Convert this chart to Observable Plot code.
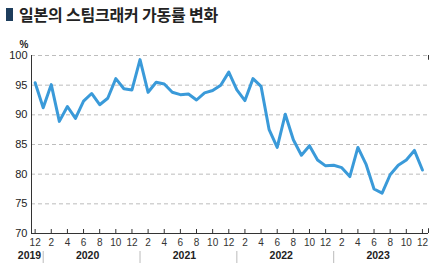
<!DOCTYPE html>
<html>
<head>
<meta charset="utf-8">
<script src="https://cdn.jsdelivr.net/npm/d3@7"></script>
<script src="https://cdn.jsdelivr.net/npm/@observablehq/plot@0.6"></script>
<style>
  html, body { margin: 0; padding: 0; background: #fff; }
  #title { position: relative; height: 30px; width: 434px; }
  #title .sq { position: absolute; left: 6px; top: 8px; width: 7px; height: 13px; background: #1d3d5c; }
  #title .tx { position: absolute; left: 19px; top: 3px; font-family: "Noto Sans CJK KR", sans-serif; font-weight: 700; font-size: 16px; line-height: 22px; color: #222; letter-spacing: -0.2px; }
  #chart svg { display: block; }
</style>
</head>
<body>
<div id="title"><div class="sq"></div><div class="tx">일본의 스팀크래커 가동률 변화</div></div>
<div id="chart"></div>
<script>
// Monthly steam cracker utilization in Japan, Dec 2019 – Dec 2023 (%)
const monthIndex = d3.range(0, 49); // 0 = Dec 2019
const utilization = [
  95.4, // 2019-12
  91.2, 95.1, 88.9, 91.4, 89.4, 92.3, 93.6, 91.7, 92.8, 96.1, 94.4, 94.2, // 2020
  99.3, 93.8, 95.5, 95.2, 93.8, 93.4, 93.5, 92.5, 93.7, 94.1, 95.0, 97.2, // 2021
  94.2, 92.4, 96.1, 94.8, 87.5, 84.5, 90.1, 85.8, 83.2, 84.8, 82.4, 81.4, // 2022
  81.5, 81.1, 79.6, 84.5, 81.7, 77.5, 76.8, 79.9, 81.5, 82.4, 84.0, 80.7  // 2023
];
const yTicks = [70, 75, 80, 85, 90, 95, 100];
const xTicks = d3.range(0, 49, 2);
const yearLabels = ["2019", "2020", "2021", "2022", "2023"];
const yearCenters = [-0.7, 6.5, 18.5, 30.5, 42.5];
const yearSeparators = [1, 13, 25, 37];
const xDomain = [-0.45, 48.75];

const data = monthIndex.map((i) => ({ i, v: utilization[i] }));
const years = yearLabels.map((label, k) => ({ label, x: yearCenters[k] }));

const font = "'Liberation Sans', Arial, sans-serif";

const chart = Plot.plot({
  width: 434,
  height: 237,
  marginTop: 25,
  marginBottom: 34,
  marginLeft: 31,
  marginRight: 6,
  style: { fontFamily: font, fontSize: "11px", color: "#222", background: "#fff" },
  x: { domain: xDomain, axis: null },
  y: { domain: [70, 100], axis: null },
  marks: [
    Plot.ruleY(yTicks.filter((d) => d > 70), { stroke: "#bdbdbd", strokeDasharray: "4,3", strokeWidth: 1 }),
    Plot.ruleX([xDomain[1]], { y1: 100, y2: 99.2, stroke: "#333", strokeWidth: 1 }),
    Plot.ruleX([xDomain[1]], { y1: 70, y2: 70.8, stroke: "#333", strokeWidth: 1 }),
    Plot.axisY({ ticks: yTicks, tickSize: 0, tickPadding: 4, label: null, fontSize: 11, fill: "#222" }),
    Plot.axisX({ ticks: xTicks, tickSize: -4, tickPadding: 9.5, label: null, tickFormat: (i) => ((i + 11) % 12) + 1, fontSize: 10, fill: "#333", stroke: "#333" }),
    Plot.axisX({ ticks: yearSeparators, tickSize: 12, dy: 18, tickFormat: () => "", label: null, stroke: "#bbb" }),
    Plot.text(years, { x: "x", text: "label", frameAnchor: "bottom", dy: 25, fontWeight: "bold", fontSize: 10.5, fill: "#222" }),
    Plot.text(["%"], { frameAnchor: "top-left", dx: -12, dy: -15, fontSize: 10, fontWeight: "bold", fill: "#222" }),
    Plot.ruleY([70], { stroke: "#333", strokeWidth: 1 }),
    Plot.ruleX([xDomain[0]], { stroke: "#333", strokeWidth: 1 }),
    Plot.line(data, { x: "i", y: "v", stroke: "#3a9ad9", strokeWidth: 3, strokeLinejoin: "round" })
  ]
});
document.getElementById("chart").appendChild(chart);
</script>
</body>
</html>
